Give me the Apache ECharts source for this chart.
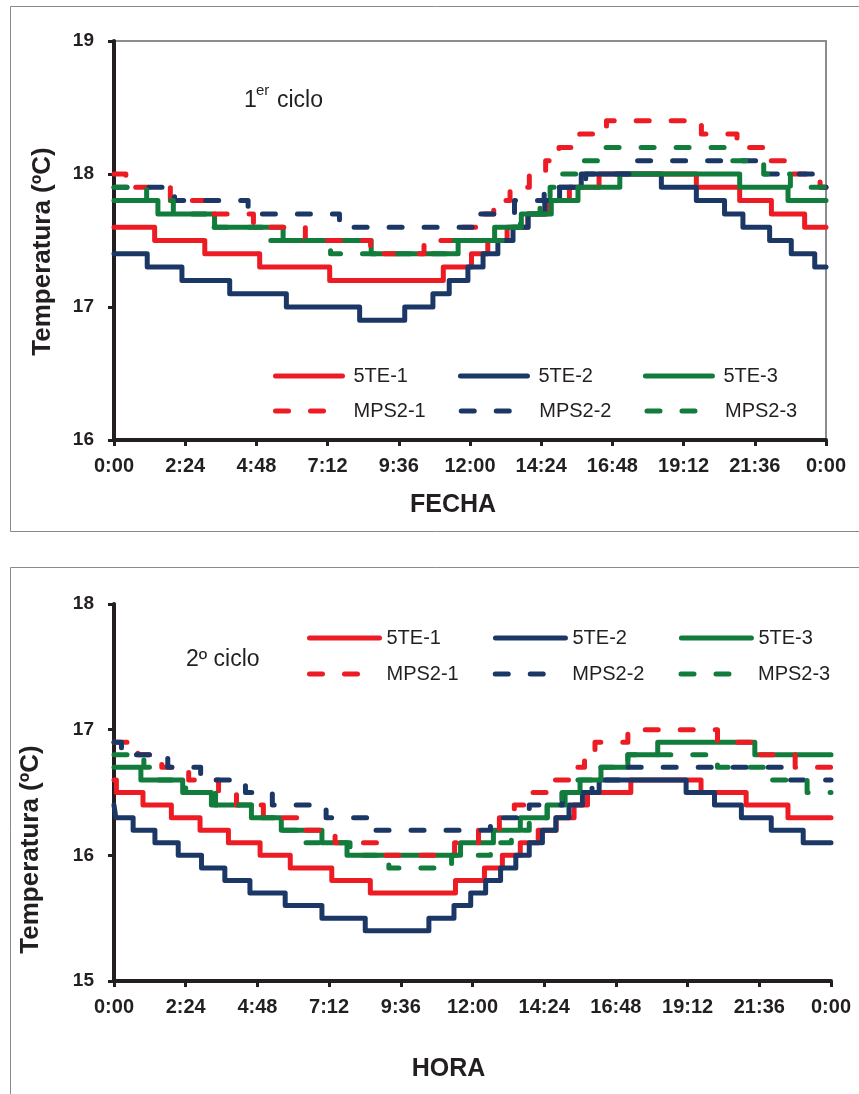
<!DOCTYPE html>
<html>
<head>
<meta charset="utf-8">
<script src="https://cdn.jsdelivr.net/npm/echarts@6/dist/echarts.min.js"></script>
<style>
  html, body { margin: 0; padding: 0; background: #ffffff; }
  #chart { width: 859px; height: 1094px; }
</style>
</head>
<body>
<div id="chart"></div>
<script>
// Hour tick labels for the 24 h axis (one tick every 2 h 24 min)
const HOUR_TICKS = ['0:00', '2:24', '4:48', '7:12', '9:36', '12:00', '14:24', '16:48', '19:12', '21:36', '0:00'];
const SENSORS = ['5TE-1', '5TE-2', '5TE-3', 'MPS2-1', 'MPS2-2', 'MPS2-3'];

// 1er ciclo: [hour, temperature ºC] at each change of the logged value
const c1_5TE_1 = [[0,17.6],[1.37,17.5],[3.06,17.4],[4.91,17.3],[7.27,17.2],[11.1,17.3],[12.05,17.4],[12.6,17.5],[13.25,17.6],[13.95,17.7],[14.6,17.8],[15.35,17.9],[16.35,18.0],[19.63,17.9],[21.09,17.8],[22.16,17.7],[23.28,17.6],[24,17.6]];
const c1_5TE_2 = [[0,17.4],[1.12,17.3],[2.29,17.2],[3.9,17.1],[5.81,17.0],[8.28,16.9],[9.8,17.0],[10.75,17.1],[11.3,17.2],[11.93,17.3],[12.44,17.4],[12.94,17.5],[13.45,17.6],[13.96,17.7],[14.52,17.8],[15.02,17.9],[15.75,18.0],[18.45,17.9],[19.63,17.8],[20.58,17.7],[21.2,17.6],[22.1,17.5],[22.83,17.4],[23.62,17.3],[24,17.3]];
const c1_5TE_3 = [[0,17.8],[1.48,17.7],[3.39,17.6],[5.7,17.5],[8.67,17.4],[11.6,17.5],[12.83,17.6],[13.73,17.7],[14.74,17.8],[15.64,17.9],[17.05,18.0],[21.09,17.9],[22.72,17.8],[24,17.8]];
const c1_MPS2_1 = [[0,18.0],[0.4,17.9],[1.9,17.8],[3.2,17.7],[4.7,17.6],[6.45,17.5],[8.65,17.4],[10.45,17.5],[11.5,17.6],[12.2,17.7],[12.8,17.8],[13.35,17.9],[14.0,18.0],[14.55,18.1],[15.0,18.2],[15.7,18.3],[16.6,18.4],[19.8,18.3],[21.0,18.2],[22.0,18.1],[22.8,18.0],[23.8,17.9],[24,17.9]];
const c1_MPS2_2 = [[0,17.9],[2.04,17.8],[4.52,17.7],[7.6,17.6],[12.3,17.7],[13.5,17.8],[14.5,17.9],[15.9,18.0],[17.4,18.1],[21.9,18.0],[23.65,17.9],[24,17.9]];
const c1_MPS2_3 = [[0,17.9],[1.1,17.8],[2.0,17.7],[3.35,17.6],[5.2,17.5],[7.3,17.4],[11.2,17.5],[13.1,17.6],[13.7,17.7],[14.36,17.8],[14.7,17.9],[15.0,18.0],[15.7,18.1],[16.5,18.2],[20.6,18.1],[21.9,18.0],[22.8,17.9],[24,17.9]];

// 2º ciclo
const c2_5TE_1 = [[0,16.6],[0.08,16.5],[0.97,16.4],[1.92,16.3],[2.88,16.2],[3.83,16.1],[4.89,16.0],[5.9,15.9],[7.29,15.8],[8.58,15.7],[11.43,15.8],[12.4,15.9],[13.0,16.0],[13.6,16.1],[14.2,16.2],[14.8,16.3],[15.4,16.4],[15.85,16.5],[17.3,16.6],[19.65,16.5],[21.16,16.4],[22.56,16.3],[24,16.3]];
const c2_5TE_2 = [[0,16.4],[0.06,16.3],[0.64,16.2],[1.37,16.1],[2.15,16.0],[2.93,15.9],[3.71,15.8],[4.55,15.7],[5.73,15.6],[6.96,15.5],[8.41,15.4],[10.54,15.5],[11.38,15.6],[11.94,15.7],[12.44,15.8],[12.94,15.9],[13.45,16.0],[13.9,16.1],[14.34,16.2],[14.79,16.3],[15.23,16.4],[15.68,16.5],[16.24,16.6],[19.15,16.5],[20.1,16.4],[21.0,16.3],[22.0,16.2],[23.07,16.1],[24,16.1]];
const c2_5TE_3 = [[0,16.7],[0.9,16.6],[2.3,16.5],[3.26,16.4],[4.6,16.3],[5.6,16.2],[6.96,16.1],[7.8,16.0],[11.6,16.1],[12.7,16.2],[13.6,16.3],[14.5,16.4],[15.1,16.5],[15.6,16.6],[16.3,16.7],[17.2,16.8],[18.2,16.9],[21.45,16.8],[24,16.8]];
const c2_MPS2_1 = [[0,16.9],[0.8,16.8],[1.6,16.7],[2.5,16.6],[3.5,16.5],[4.1,16.4],[5.0,16.3],[6.2,16.2],[7.4,16.1],[9.0,16.0],[11.4,16.1],[12.2,16.2],[12.9,16.3],[13.4,16.4],[13.95,16.5],[14.5,16.6],[15.5,16.7],[15.75,16.8],[16.1,16.9],[17.2,17.0],[20.2,16.9],[21.6,16.8],[22.8,16.7],[24,16.7]];
const c2_MPS2_2 = [[0,16.9],[0.25,16.8],[1.8,16.7],[2.9,16.6],[4.4,16.5],[5.3,16.4],[7.1,16.3],[8.7,16.2],[12.6,16.3],[13.9,16.4],[15.0,16.5],[16.0,16.6],[17.0,16.7],[22.4,16.6],[24,16.6]];
const c2_MPS2_3 = [[0,16.8],[1.0,16.7],[1.5,16.6],[2.4,16.5],[3.4,16.4],[4.6,16.3],[5.6,16.2],[6.4,16.1],[7.9,16.0],[9.2,15.9],[11.3,16.0],[12.6,16.1],[13.3,16.2],[13.9,16.3],[14.5,16.4],[15.0,16.5],[15.5,16.6],[16.3,16.7],[17.2,16.8],[20.2,16.7],[21.8,16.6],[23.2,16.5],[24,16.5]];

const CYCLE1 = [c1_5TE_1, c1_5TE_2, c1_5TE_3, c1_MPS2_1, c1_MPS2_2, c1_MPS2_3];
const CYCLE2 = [c2_5TE_1, c2_5TE_2, c2_5TE_3, c2_MPS2_1, c2_MPS2_2, c2_MPS2_3];

const INK = '#231f20';
const RED = '#ed1c24';
const NAVY = '#1b3766';
const GREEN = '#117c3b';
const SENSOR_COLORS = [RED, NAVY, GREEN, RED, NAVY, GREEN];
const FONT = '"Liberation Sans", Arial, Helvetica, sans-serif';
const LINE_W = 5;

function buildSeries(dataSets, gridIndex) {
  return dataSets.map((data, i) => {
    const dashed = i >= 3;
    return {
      name: SENSORS[i],
      type: 'line',
      xAxisIndex: gridIndex,
      yAxisIndex: gridIndex,
      data: data,
      step: 'end',
      symbol: 'none',
      animation: false,
      itemStyle: { color: SENSOR_COLORS[i] },
      lineStyle: {
        color: SENSOR_COLORS[i],
        width: LINE_W,
        type: dashed ? [13, 22] : 'solid',
        cap: 'round',
        join: 'round'
      }
    };
  });
}

function hourAxis(gridIndex, name, nameGap, namePadRight) {
  return {
    type: 'value',
    gridIndex: gridIndex,
    min: 0,
    max: 24,
    interval: 2.4,
    name: name,
    nameLocation: 'middle',
    nameGap: nameGap,
    nameTextStyle: { fontSize: 25, fontWeight: 'bold', color: INK, fontFamily: FONT, padding: [0, namePadRight, 0, 0] },
    axisLine: { show: true, onZero: false, lineStyle: { color: INK, width: 4 } },
    axisTick: { show: true, inside: false, length: 6, lineStyle: { color: INK, width: 3 } },
    axisLabel: {
      fontSize: 20, fontWeight: 'bold', color: INK, fontFamily: FONT, margin: 16,
      formatter: v => HOUR_TICKS[Math.round(v / 2.4)]
    },
    splitLine: { show: false }
  };
}

function tempAxis(gridIndex, min, max, nameGap, namePadRight) {
  return {
    type: 'value',
    gridIndex: gridIndex,
    min: min,
    max: max,
    interval: 1,
    name: 'Temperatura (ºC)',
    nameLocation: 'middle',
    nameGap: nameGap,
    nameTextStyle: { fontSize: 26, fontWeight: 'bold', color: INK, fontFamily: FONT, padding: [0, namePadRight, 0, 0] },
    axisLine: { show: true, onZero: false, lineStyle: { color: INK, width: 4 } },
    axisTick: { show: true, inside: false, length: 6, lineStyle: { color: INK, width: 3 } },
    axisLabel: { fontSize: 19, fontWeight: 'bold', color: INK, fontFamily: FONT, margin: 20 },
    splitLine: { show: false }
  };
}

function legendRow(names, left, top, iconWidth, gap, textPad) {
  return {
    data: names,
    orient: 'horizontal',
    left: left,
    top: top,
    padding: 0,
    itemWidth: iconWidth,
    itemHeight: 14,
    itemGap: gap,
    selectedMode: false,
    itemStyle: { opacity: 0 },
    lineStyle: { width: LINE_W },
    textStyle: { fontSize: 20, color: INK, fontFamily: FONT, padding: [0, 0, 0, textPad] }
  };
}

const chart = echarts.init(document.getElementById('chart'), null, { renderer: 'canvas' });

chart.setOption({
  animation: false,
  backgroundColor: '#ffffff',
  textStyle: { fontFamily: FONT },
  grid: [
    { left: 114, top: 41, width: 712, height: 399, show: true, borderColor: '#8c8c8c', borderWidth: 2, backgroundColor: 'transparent' },
    { left: 114, top: 604, width: 717, height: 377 }
  ],
  xAxis: [
    hourAxis(0, 'FECHA', 53, 34),
    hourAxis(1, 'HORA', 76, 48)
  ],
  yAxis: [
    tempAxis(0, 16, 19, 58, 22),
    tempAxis(1, 15, 18, 70, 114)
  ],
  legend: [
    legendRow(SENSORS.slice(0, 3), 273, 366, 67, 50, 6),
    legendRow(SENSORS.slice(3), 273, 401, 67, 33, 6),
    legendRow(SENSORS.slice(0, 3), 307, 628, 70, 52, 2),
    legendRow(SENSORS.slice(3), 307, 664, 70, 34, 2)
  ],
  graphic: [
    { type: 'rect', silent: true, z: -10, shape: { x: 10.5, y: 6.5, width: 880, height: 525 }, style: { fill: 'none', stroke: '#8a8a8a', lineWidth: 1 } },
    { type: 'rect', silent: true, z: -10, shape: { x: 10.5, y: 567.5, width: 880, height: 560 }, style: { fill: 'none', stroke: '#8a8a8a', lineWidth: 1 } },
    { type: 'text', x: 244, y: 101, style: { text: '1', fontSize: 23, fill: INK, fontFamily: FONT, verticalAlign: 'middle' } },
    { type: 'text', x: 256, y: 91, style: { text: 'er', fontSize: 15, fill: INK, fontFamily: FONT, verticalAlign: 'middle' } },
    { type: 'text', x: 277, y: 101, style: { text: 'ciclo', fontSize: 23, fill: INK, fontFamily: FONT, verticalAlign: 'middle' } },
    { type: 'text', x: 186, y: 660, style: { text: '2º ciclo', fontSize: 23, fill: INK, fontFamily: FONT, verticalAlign: 'middle' } }
  ],
  series: buildSeries(CYCLE1, 0).concat(buildSeries(CYCLE2, 1))
});
</script>
</body>
</html>
